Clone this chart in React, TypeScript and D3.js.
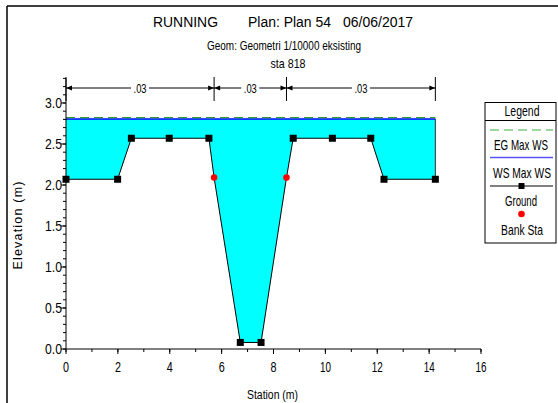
import React, { useEffect } from "react";
import * as d3 from "d3";

// cross-section ground points
const groundSta = [0, 1.99, 2.52, 3.98, 5.51, 5.71, 6.72, 7.52, 8.5, 8.76, 10.27, 11.75, 12.26, 14.24];
const groundElev = [2.07, 2.07, 2.57, 2.57, 2.57, 2.09, 0.08, 0.08, 2.09, 2.57, 2.57, 2.57, 2.07, 2.07];
const bankIdx = [5, 8];

const wsMax = 2.805;
const egMax = 2.822;

// Manning n reaches
const nBreaks = [0, 5.71, 8.5, 14.24];
const nValues = [".03", ".03", ".03"];

const xTicks = [0, 2, 4, 6, 8, 10, 12, 14, 16];
const yTicks = [0, 0.5, 1.0, 1.5, 2.0, 2.5, 3.0];

const FONT = "'Liberation Sans', Arial, sans-serif";

// condensed text (the original uses a narrow face): squeeze horizontally
function T({ x, y, size, w, anchor = "start", children, k = 0.76 }: any) {
  return (
    <text
      transform={`translate(${x},${y}) scale(${k},1)`}
      fontSize={size}
      textAnchor={anchor}
      textLength={w / k}
      lengthAdjust="spacingAndGlyphs"
      fill="#000"
    >
      {children}
    </text>
  );
}

export default function App() {
  useEffect(() => {
    document.body.style.margin = "0";
  }, []);

  const W = 558;
  const H = 403;
  const x = d3.scaleLinear().domain([0, 16]).range([66, 481]);
  const y = d3.scaleLinear().domain([0, 3.3]).range([349, 78.4]);

  const pts = groundSta.map((s, i) => ({ s, e: groundElev[i], i }));

  const water = d3
    .area<{ s: number; e: number }>()
    .x((d) => x(d.s))
    .y0((d) => y(d.e))
    .y1(() => y(wsMax))(pts);

  const groundLine = d3
    .line<{ s: number; e: number }>()
    .x((d) => x(d.s))
    .y((d) => y(d.e))(pts);

  const sMin = groundSta[0];
  const sMax = groundSta[groundSta.length - 1];

  const yMinor = d3.range(0, 34).map((v) => v / 10);
  const xMinor = d3.range(0, 17);

  const arrowY = 88;

  return (
    <svg width={W} height={H} style={{ display: "block", background: "#fff" }} fontFamily={FONT}>
      {/* frame */}
      <line x1={7} y1={6} x2={W} y2={6} stroke="#000" strokeWidth={1.5} />
      <line x1={7} y1={6} x2={7} y2={H} stroke="#000" strokeWidth={1.5} />

      {/* titles */}
      <T x={153} y={27} size={15} w={65} k={0.8}>RUNNING</T>
      <T x={248} y={27} size={15} w={83} k={0.85}>Plan: Plan 54</T>
      <T x={343} y={27} size={15} w={70} k={0.85}>06/06/2017</T>
      <T x={284} y={50} size={12.5} w={154} anchor="middle">Geom: Geometri 1/10000 eksisting</T>
      <T x={288} y={68} size={12.5} w={35} anchor="middle">sta 818</T>

      {/* water */}
      <path d={water || ""} fill="#00FFFF" stroke="none" />
      <line x1={x(sMax)} x2={x(sMax)} y1={y(wsMax)} y2={y(groundElev[groundElev.length - 1])} stroke="#333" strokeWidth={1} />
      <line x1={x(sMin)} x2={x(sMax)} y1={y(wsMax)} y2={y(wsMax)} stroke="#0000FF" strokeWidth={1.5} />
      <line x1={x(sMin)} x2={x(sMax)} y1={y(egMax)} y2={y(egMax)} stroke="#2E9B3A" strokeWidth={1.2} strokeDasharray="9,5" />

      {/* ground */}
      <path d={groundLine || ""} fill="none" stroke="#000" strokeWidth={1} />
      {pts
        .filter((p) => !bankIdx.includes(p.i))
        .map((p) => (
          <rect key={p.i} x={x(p.s) - 3.5} y={y(p.e) - 3.5} width={7} height={7} fill="#000" />
        ))}
      {bankIdx.map((i) => (
        <circle key={i} cx={x(groundSta[i])} cy={y(groundElev[i])} r={3.3} fill="#FF0000" />
      ))}

      {/* n-value annotations */}
      {nBreaks.map((b, i) => (
        <line key={"nb" + i} x1={x(b)} x2={x(b)} y1={77} y2={101} stroke="#000" strokeWidth={1} />
      ))}
      {nValues.map((v, i) => {
        const a = x(nBreaks[i]);
        const b = x(nBreaks[i + 1]);
        const m = (a + b) / 2;
        return (
          <g key={"nv" + i}>
            <line x1={a} x2={b} y1={arrowY} y2={arrowY} stroke="#000" strokeWidth={1} />
            <rect x={m - 9} y={arrowY - 6} width={18} height={12} fill="#fff" />
            <T x={m} y={arrowY + 5} size={13} w={13} anchor="middle">{v}</T>
            <path d={`M${a + 6},${arrowY - 2.5}L${a},${arrowY}L${a + 6},${arrowY + 2.5}Z`} fill="#000" />
            <path d={`M${b - 6},${arrowY - 2.5}L${b},${arrowY}L${b - 6},${arrowY + 2.5}Z`} fill="#000" />
          </g>
        );
      })}

      {/* y axis */}
      <line x1={66} x2={66} y1={y(0)} y2={y(3.3)} stroke="#000" strokeWidth={1} />
      {yMinor.map((v) => (
        <line key={"ym" + v} x1={66 - 3} x2={66} y1={y(v)} y2={y(v)} stroke="#000" strokeWidth={1} />
      ))}
      {yTicks.map((v) => (
        <g key={"yt" + v}>
          <line x1={66 - 5} x2={66} y1={y(v)} y2={y(v)} stroke="#000" strokeWidth={1} />
          <T x={62} y={y(v) + 5} size={14} w={17} anchor="end">{v.toFixed(1)}</T>
        </g>
      ))}
      <text
        transform={`translate(22,${225}) rotate(-90)`}
        fontSize={12.5}
        letterSpacing={1.2}
        textAnchor="middle"
        fill="#000"
      >
        Elevation (m)
      </text>

      {/* x axis */}
      <line x1={x(0)} x2={x(16)} y1={349} y2={349} stroke="#000" strokeWidth={1} />
      {xMinor.map((v) => (
        <line key={"xm" + v} x1={x(v)} x2={x(v)} y1={349} y2={352} stroke="#000" strokeWidth={1} />
      ))}
      {xTicks.map((v) => (
        <g key={"xt" + v}>
          <line x1={x(v)} x2={x(v)} y1={349} y2={354} stroke="#000" strokeWidth={1} />
          <T x={x(v)} y={372} size={15} w={v >= 10 ? 11 : 6} anchor="middle" k={0.7}>{v}</T>
        </g>
      ))}
      <T x={272.5} y={399} size={13.5} w={51} anchor="middle">Station (m)</T>

      {/* legend */}
      <rect x={485} y={102.5} width={71} height={140.5} fill="#fff" stroke="#000" strokeWidth={1} />
      <line x1={485} x2={556} y1={120.5} y2={120.5} stroke="#000" strokeWidth={1} />
      <T x={522} y={116} size={14} w={35} anchor="middle">Legend</T>
      <line x1={490} x2={553} y1={130} y2={130} stroke="#3CB043" strokeWidth={1.2} strokeDasharray="9,5" />
      <T x={521} y={150} size={14} w={54} anchor="middle" k={0.7}>EG Max WS</T>
      <line x1={490} x2={553} y1={157.5} y2={157.5} stroke="#5555FF" strokeWidth={1.5} />
      <T x={522} y={178} size={14} w={58} anchor="middle" k={0.72}>WS Max WS</T>
      <line x1={490} x2={553} y1={186} y2={186} stroke="#000" strokeWidth={1} />
      <rect x={518.5} y={183} width={6} height={6} fill="#000" />
      <T x={521} y={206} size={14} w={32} anchor="middle">Ground</T>
      <circle cx={521.5} cy={214} r={3.3} fill="#FF0000" />
      <T x={522} y={235} size={14} w={42} anchor="middle">Bank Sta</T>
    </svg>
  );
}
